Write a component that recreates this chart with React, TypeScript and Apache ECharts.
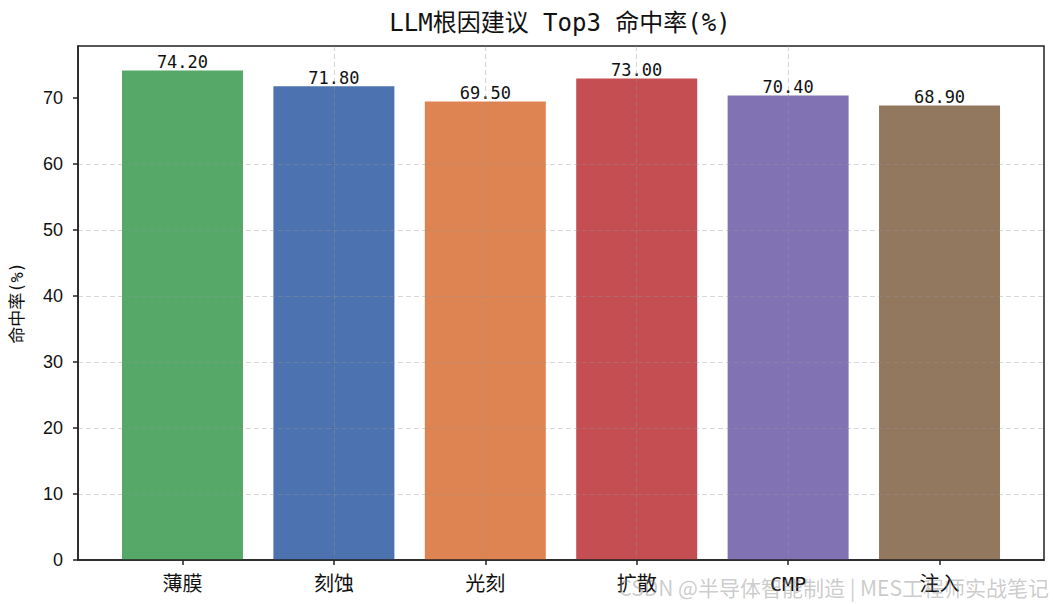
import React, { useEffect, useRef } from "react";
import * as echarts from "echarts";

const categories = ["薄膜", "刻蚀", "光刻", "扩散", "CMP", "注入"];
const hitRates = [74.2, 71.8, 69.5, 73.0, 70.4, 68.9];
const barColors = ["#55A868", "#4C72B0", "#DD8452", "#C44E52", "#8172B3", "#937860"];
const yTicks = [0, 10, 20, 30, 40, 50, 60, 70];
const xTicks = [0, 1, 2, 3, 4, 5];
const titleText = "LLM根因建议 Top3 命中率(%)";
const yAxisName = "命中率(%)";
const watermark = "CSDN @半导体智能制造 | MES工程师实战笔记";

const MONO_CJK = "'DejaVu Sans Mono', 'Noto Sans CJK SC', sans-serif";

export default function App() {
  const ref = useRef<HTMLDivElement>(null);
  useEffect(() => {
    if (!ref.current) return;
    const chart = echarts.init(ref.current, undefined, { renderer: "svg" });
    const yMax = Math.max(...hitRates) * 1.05;
    const xMin = -0.4 - 0.05 * 5.8;
    const xMax = categories.length - 1 + 0.4 + 0.05 * 5.8;
    const gridLine = { show: true, showMinLine: false, showMaxLine: false, lineStyle: { color: "rgba(150,150,150,0.38)", width: 1.2, type: [5, 3] } };
    chart.setOption({
      animation: false,
      backgroundColor: "#ffffff",
      grid: { left: 76, right: 9, top: 46, bottom: 44, show: true, borderColor: "#222", borderWidth: 1.5, backgroundColor: "transparent" },
      xAxis: {
        type: "value",
        min: xMin,
        max: xMax,
        z: 5,
        axisLine: { show: true, onZero: false, lineStyle: { color: "#222", width: 1.5 } },
        axisTick: { show: true, customValues: xTicks, length: 5, lineStyle: { color: "#222", width: 1.5 } },
        axisLabel: {
          customValues: xTicks,
          formatter: (v: number) => categories[Math.round(v)] ?? "",
          fontFamily: MONO_CJK,
          fontSize: 20,
          color: "#111",
          margin: 14,
        },
        splitLine: gridLine,
      },
      yAxis: {
        type: "value",
        min: 0,
        max: yMax,
        z: 5,
        name: yAxisName,
        nameLocation: "middle",
        nameGap: 53,
        nameTextStyle: { fontFamily: MONO_CJK, fontSize: 17, color: "#111" },
        axisLine: { show: true, onZero: false, lineStyle: { color: "#222", width: 1.5 } },
        axisTick: { show: true, customValues: yTicks, length: 5, lineStyle: { color: "#222", width: 1.5 } },
        axisLabel: { customValues: yTicks, fontFamily: "'Liberation Sans', Arial, sans-serif", fontSize: 18, color: "#111", margin: 15 },
        splitLine: gridLine,
      },
      series: [
        {
          type: "bar",
          barWidth: 121,
          clip: false,
          z: 2,
          data: hitRates.map((v, i) => ({ value: [i, v], itemStyle: { color: barColors[i] } })),
          label: {
            show: true,
            position: "top",
            distance: 0,
            formatter: (p: any) => p.value[1].toFixed(2),
            fontFamily: "'DejaVu Sans Mono', monospace",
            fontSize: 17,
            color: "#111",
          },
        },
      ],
      graphic: [
        {
          type: "text",
          x: 560,
          y: 23,
          z: 10,
          style: { text: titleText, align: "center", verticalAlign: "middle", font: `24px ${MONO_CJK}`, fill: "#111" },
        },
        {
          type: "text",
          x: 1049,
          y: 587,
          z: 20,
          style: { text: watermark, align: "right", verticalAlign: "middle", font: "21px 'Noto Sans CJK SC', sans-serif", fill: "rgba(140,140,140,0.45)" },
        },
      ],
    });
    return () => chart.dispose();
  }, []);
  return <div ref={ref} style={{ position: "fixed", left: 0, top: 0, width: 1053, height: 604 }} />;
}
